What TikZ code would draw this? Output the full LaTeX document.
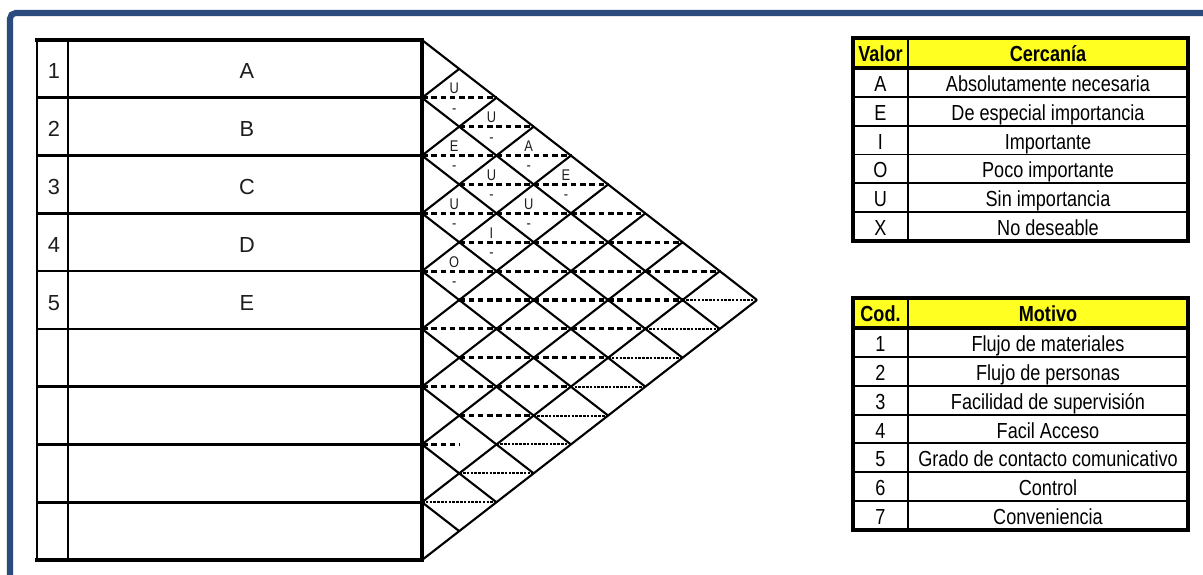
\documentclass[tikz,border=0pt]{standalone}
\usepackage{fontspec}
\setmainfont{Liberation Sans}
\newfontfamily\narrowfont{Liberation Sans}[FakeStretch=0.83]
\usetikzlibrary{calc}
\definecolor{frameBlue}{HTML}{2B4A7E}
\definecolor{headYellow}{HTML}{FFFF22}
\definecolor{textDark}{HTML}{1E1E1E}

\begin{document}
\begin{tikzpicture}[x=0.025cm, y=-0.025cm,
    rowline/.style={line width=1.9pt},
    edgeline/.style={line width=3.5pt, line cap=rect},
    gridline/.style={line width=1.5pt},
    midline/.style={line width=2.2pt, dash pattern=on 4pt off 2.6pt},
    midfine/.style={line width=1.4pt, dash pattern=on 1.8pt off 0.9pt},
    celltext/.style={font=\fontsize{15.5}{16}\selectfont, text=textDark, inner sep=0pt, anchor=base},
    reltext/.style={font=\narrowfont\fontsize{11}{12}\selectfont, text=textDark, inner sep=0pt},
    tabtext/.style={font=\narrowfont\fontsize{15.5}{16}\selectfont, text=black, inner sep=0pt, anchor=base},
    tabhead/.style={tabtext, font=\narrowfont\bfseries\fontsize{15.5}{16}\selectfont},
    tabline/.style={line width=1.4pt},
    tabedge/.style={line width=2.2pt, line cap=rect}]

  \useasboundingbox (0,0) rectangle (1203,574);
  \fill[white] (0,0) rectangle (1203,574);

  % marco
  \draw[frameBlue, line width=4.3pt, rounded corners=4pt] (10,600) -- (10,13) -- (1230,13);

  % tabla de departamentos
  \pgfmathsetmacro\rh{520/9}
  \pgfmathsetmacro\dx{335/9}
  \foreach \k in {1,...,8}
    \draw[rowline] (37,40+\k*\rh) -- (422,40+\k*\rh);
  \draw[rowline] (37,40) -- (37,560);
  \draw[rowline] (68,40) -- (68,560);
  \draw[edgeline] (37,40) -- (422,40) -- (422,560) -- (37,560);
  \foreach \n/\d [count=\i] in {1/A,2/B,3/C,4/D,5/E} {
    \node[celltext] (num\i) at (54,40+\i*\rh-\rh/2+10) {\n};
    \node[celltext] (dep\i) at (247,40+\i*\rh-\rh/2+10) {\d};
  }

  % matriz triangular
  \foreach \k in {0,...,8}
    \draw[gridline] (422,40+\k*\rh) -- ++({(9-\k)*\dx},{(9-\k)*\rh/2});
  \foreach \k in {1,...,9}
    \draw[gridline] (422,40+\k*\rh) -- ++({\k*\dx},{-\k*\rh/2});

  % linea media de cada rombo
  \foreach \i in {1,...,8} {
    \pgfmathtruncatemacro\ja{\i+1}
    \foreach \j in {\ja,...,9} {
      \pgfmathsetmacro\cx{422+(\j-\i)*\dx}
      \pgfmathsetmacro\cy{40+(\i+\j-1)*\rh/2}
      \ifnum\j=9
        \draw[midfine] (\cx-\dx,\cy) -- (\cx+\dx,\cy);
      \else
        \ifnum\i=7
          \draw[midline] (\cx-\dx,\cy) -- (\cx,\cy);
        \else
          \draw[midline] (\cx-\dx,\cy) -- (\cx+\dx,\cy);
        \fi
      \fi
    }
  }

  % relaciones
  \foreach \i/\j/\r in {1/2/U,1/3/U,1/4/A,1/5/E,2/3/E,2/4/U,2/5/U,3/4/U,3/5/I,4/5/O} {
    \pgfmathsetmacro\cx{422+(\j-\i)*\dx}
    \pgfmathsetmacro\cy{40+(\i+\j-1)*\rh/2}
    \node[reltext, anchor=base] (rel\i\j) at (\cx-5,\cy-4) {\r};
    \node[reltext] (mot\i\j) at (\cx-5,\cy+13) {-};
  }

  % tabla de cercania
  \pgfmathsetmacro\th{173/6}
  \fill[headYellow] (853,38) rectangle (1188,68);
  \foreach \r in {1,...,5}
    \draw[tabline] (853,68+\r*\th) -- (1188,68+\r*\th);
  \draw[tabline] (908,38) -- (908,241);
  \draw[tabedge] (853,68) -- (1188,68);
  \draw[tabedge] (853,38) rectangle (1188,241);
  \node[tabhead] (valor) at (880.5,61) {Valor};
  \node[tabhead] (cercania) at (1048,61) {Cercanía};
  \foreach \v/\t [count=\r] in {A/Absolutamente necesaria, E/De especial importancia,
      I/Importante, O/Poco importante, U/Sin importancia, X/No deseable} {
    \node[tabtext] (val\r) at (880.5,68+\r*\th-\th/2+9) {\v};
    \node[tabtext] (cer\r) at (1048,68+\r*\th-\th/2+9) {\t};
  }

  % tabla de motivos
  \pgfmathsetmacro\tm{202/7}
  \fill[headYellow] (853,298) rectangle (1188,328);
  \foreach \r in {1,...,6}
    \draw[tabline] (853,328+\r*\tm) -- (1188,328+\r*\tm);
  \draw[tabline] (908,298) -- (908,530);
  \draw[tabedge] (853,328) -- (1188,328);
  \draw[tabedge] (853,298) rectangle (1188,530);
  \node[tabhead] (cod) at (880.5,321) {Cod.};
  \node[tabhead] (motivo) at (1048,321) {Motivo};
  \foreach \c/\t [count=\r] in {1/Flujo de materiales, 2/Flujo de personas,
      3/Facilidad de supervisión, 4/Facil Acceso, 5/Grado de contacto comunicativo,
      6/Control, 7/Conveniencia} {
    \node[tabtext] (cod\r) at (880.5,328+\r*\tm-\tm/2+9) {\c};
    \node[tabtext] (mot\r) at (1048,328+\r*\tm-\tm/2+9) {\t};
  }
\end{tikzpicture}
\end{document}
